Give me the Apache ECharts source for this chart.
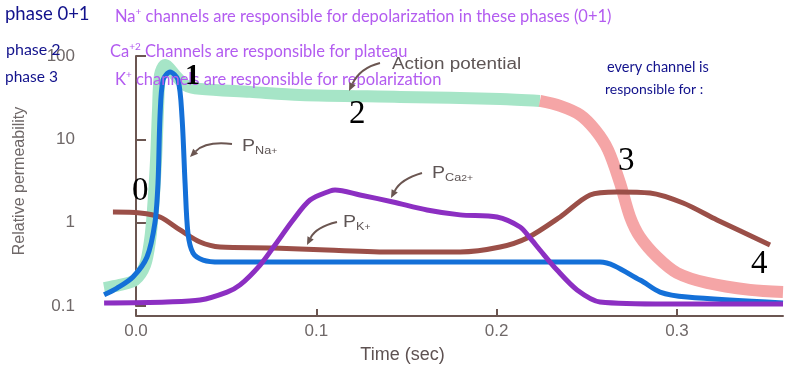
<!DOCTYPE html>
<html>
<head>
<meta charset="utf-8">
<script src="https://cdn.jsdelivr.net/npm/echarts@6/dist/echarts.min.js"></script>
<style>
    html, body {margin: 0; padding: 0; background: #fff;}
    #chart {width: 787px; height: 369px;}
</style>
</head>
<body>
<div id="chart"></div>
<script>
// action potential band, green part then red part  [time, relative value]
var apGreen = [[-0.0177, 0.164], [-0.0089, 0.179], [-0.0006, 0.205], [0.005, 0.31], [0.0078, 0.62],
    [0.0094, 1.42], [0.0111, 5.66], [0.0122, 22.5], [0.0133, 59.3], [0.0161, 78.2], [0.0216, 59.3],
    [0.0272, 45], [0.0355, 40.3], [0.0632, 37.1], [0.091, 34.1], [0.1464, 32.3], [0.2019, 30.5], [0.224, 28.9]];
var apRed = [[0.224, 28.9], [0.2352, 25.2], [0.2463, 19.6], [0.2546, 13.0], [0.2618, 7.46], [0.2684, 3.0],
    [0.274, 1.17], [0.2795, 0.673], [0.289, 0.387], [0.3001, 0.249], [0.3167, 0.189], [0.3405, 0.156], [0.3588, 0.147]];
// permeabilities
var pNa = [[-0.0177, 0.136], [-0.0105, 0.164], [-0.0017, 0.223], [0.0061, 0.387], [0.0105, 1.0], [0.0122, 3.0],
    [0.0133, 18.6], [0.015, 51.6], [0.0189, 64.4], [0.0233, 51.6], [0.0255, 18.6], [0.0272, 3.0], [0.0288, 0.75],
    [0.0316, 0.432], [0.0372, 0.356], [0.0466, 0.337], [0.1464, 0.337], [0.2573, 0.337], [0.2795, 0.205],
    [0.2906, 0.147], [0.3056, 0.128], [0.3588, 0.109]];
var pCa = [[-0.0177, 0.109], [0.0172, 0.112], [0.0355, 0.118], [0.0505, 0.147], [0.0577, 0.179], [0.0688, 0.31],
    [0.0771, 0.54], [0.0871, 1.077], [0.0965, 1.87], [0.1076, 2.40], [0.1104, 2.47], [0.1242, 2.15],
    [0.1425, 1.77], [0.1614, 1.42], [0.1797, 1.24], [0.2002, 1.17], [0.213, 0.887], [0.2185, 0.655],
    [0.224, 0.47], [0.2335, 0.27], [0.2446, 0.156], [0.2573, 0.112], [0.2945, 0.106], [0.3588, 0.106]];
var pK = [[-0.0128, 1.34], [0.0022, 1.31], [0.0133, 1.17], [0.0244, 0.817], [0.0355, 0.586], [0.0466, 0.51],
    [0.076, 0.497], [0.1059, 0.47], [0.1425, 0.445], [0.1797, 0.445], [0.2019, 0.51], [0.2169, 0.655],
    [0.2352, 1.17], [0.2518, 2.15], [0.2668, 2.34], [0.2851, 2.27], [0.3034, 1.72], [0.3222, 1.077], [0.3516, 0.54]];
var xTicks = [0, 0.1, 0.2, 0.3];

var AXIS_COLOR = "#6b5651";
var LABEL_COLOR = "#6f6868";
var PEN_BLUE = "#12128c";
var PEN_PURPLE = "#b35cf0";

var chartDom = document.getElementById('chart');
var myChart = echarts.init(chartDom);

function band(name, data, color, width, z) {
    return {
        name: name,
        type: 'line',
        data: data,
        xAxisIndex: 0,
        yAxisIndex: 0,
        symbol: 'none',
        smooth: 0.3,
        z: z,
        lineStyle: {color: color, width: width, cap: 'butt', join: 'round'}
    };
}

// curved arrow with a filled head
function arrow(x1, y1, cx, cy, x2, y2) {
    let ang = Math.atan2(y2 - cy, x2 - cx);
    let len = 8, w = 3.5;
    let bx = x2 - len * Math.cos(ang), by = y2 - len * Math.sin(ang);
    return [
        {
            type: 'bezierCurve', z: 100,
            shape: {x1: x1, y1: y1, x2: bx, y2: by, cpx1: cx, cpy1: cy},
            style: {stroke: AXIS_COLOR, lineWidth: 2, fill: 'none'}
        },
        {
            type: 'polygon', z: 100,
            shape: {points: [[x2, y2], [bx - w * Math.sin(ang), by + w * Math.cos(ang)], [bx + w * Math.sin(ang), by - w * Math.cos(ang)]]},
            style: {fill: AXIS_COLOR}
        }
    ];
}

function txt(x, y, text, font, color, extra) {
    let el = {
        type: 'text', x: x, y: y, z: 100,
        style: {text: text, font: font, fill: color}
    };
    if (extra) {
        for (let k in extra) {
            if (k === 'rich') {
                el.style.rich = extra.rich;
            } else {
                el[k] = extra[k];
            }
        }
    }
    return el;
}

var pRich = {
    p: {fontSize: 17, fontFamily: 'Liberation Sans', color: '#5e5555', lineHeight: 20, verticalAlign: 'middle'},
    s: {fontSize: 11, fontFamily: 'Liberation Sans', color: '#5e5555', lineHeight: 12, verticalAlign: 'bottom'},
    u: {fontSize: 9, fontFamily: 'Liberation Sans', color: '#5e5555', lineHeight: 18, verticalAlign: 'bottom'}
};
var penRich = {
    b: {fontSize: 16.5, fontFamily: 'Lato', color: PEN_PURPLE, lineHeight: 20, verticalAlign: 'middle'},
    u: {fontSize: 10, fontFamily: 'Lato', color: PEN_PURPLE, lineHeight: 11, verticalAlign: 'top'}
};

var serif = "33px 'Liberation Serif'";
var graphics = [
    txt(5, 5, 'phase 0+1', "18.5px 'Lato'", PEN_BLUE),
    txt(6, 42, 'phase 2', "16px 'Lato'", PEN_BLUE),
    txt(5, 69, 'phase 3', "15.5px 'Lato'", PEN_BLUE),
    txt(115, 7, '{b|Na}{u|+}{b| channels are responsible for depolarization in these phases (0+1)}', '', PEN_PURPLE, {rich: penRich}),
    txt(110, 42, '{b|Ca}{u|+2}{b| Channels are responsible for plateau}', '', PEN_PURPLE, {rich: penRich}),
    txt(115, 70, '{b|K}{u|+}{b| channels are responsible for repolarization}', '', PEN_PURPLE, {rich: penRich}),
    txt(607, 60, 'every channel is', "14.5px 'Lato'", PEN_BLUE),
    txt(605, 82, 'responsible for :', "14px 'Lato'", PEN_BLUE),
    txt(392, 57, 'Action potential', "16px 'Liberation Sans'", '#5e5555', {scaleX: 1.18}),
    txt(242, 136, '{p|P}{s|Na}{u|+}', '', '#5e5555', {rich: pRich, scaleX: 1.15}),
    txt(432, 163, '{p|P}{s|Ca}{u|2+}', '', '#5e5555', {rich: pRich, scaleX: 1.15}),
    txt(343, 212, '{p|P}{s|K}{u|+}', '', '#5e5555', {rich: pRich, scaleX: 1.15}),
    txt(132, 175, '0', serif, '#000'),
    txt(185, 61, '1', "bold 30px 'Liberation Serif'", '#000'),
    txt(349, 98, '2', serif, '#000'),
    txt(618, 145, '3', serif, '#000'),
    txt(751, 248, '4', serif, '#000')
];
graphics = graphics
    .concat(arrow(380, 63, 360, 68, 349, 91))
    .concat(arrow(232, 144, 206, 141, 190, 157))
    .concat(arrow(422, 173, 401, 179, 391, 198))
    .concat(arrow(337, 222, 316, 227, 307, 245));

var option = {
    animation: false,
    backgroundColor: '#fff',
    grid: [
        {left: 83, right: 4, top: 56, bottom: 63},
        {left: 136, right: 4, top: 56, bottom: 53}
    ],
    xAxis: [
        {type: 'value', gridIndex: 0, min: -0.0294, max: 0.3588, show: false},
        {
            type: 'value', gridIndex: 1, min: 0, max: 0.3588,
            name: 'Time (sec)', nameLocation: 'middle', nameGap: 30,
            nameTextStyle: {color: '#5e5252', fontSize: 18, fontFamily: 'Liberation Sans', padding: [0, 114, 0, 0]},
            axisLine: {lineStyle: {color: AXIS_COLOR, width: 2}},
            axisTick: {inside: true, length: 7, lineStyle: {color: AXIS_COLOR, width: 2}, customValues: xTicks},
            axisLabel: {
                customValues: xTicks, color: LABEL_COLOR, fontSize: 17, fontFamily: 'Liberation Sans', margin: 7,
                formatter: function (v) { return v.toFixed(1); }
            },
            splitLine: {show: false}
        }
    ],
    yAxis: [
        {
            type: 'log', logBase: 10, gridIndex: 0, min: 0.1, max: 100,
            name: 'Relative permeability', nameLocation: 'middle', nameGap: 55,
            nameTextStyle: {color: LABEL_COLOR, fontSize: 16, fontFamily: 'Liberation Sans'},
            axisLine: {show: true, lineStyle: {color: AXIS_COLOR, width: 2}},
            axisTick: {show: true, inside: true, length: 10, lineStyle: {color: AXIS_COLOR, width: 2}},
            axisLabel: {color: LABEL_COLOR, fontSize: 17, fontFamily: 'Liberation Sans', margin: 8,
                formatter: function (v) { return String(+v.toPrecision(3)); }},
            splitLine: {show: false},
            minorTick: {show: false}
        },
        {type: 'value', gridIndex: 1, show: false}
    ],
    series: [
        band('Action potential', apGreen, '#a6e5c7', 12, 1),
        band('Action potential (repol.)', apRed, '#f5a5a6', 12, 1),
        band('PK', pK, '#9b4f48', 5, 3),
        band('PNa', pNa, '#1470d8', 5, 4),
        band('PCa', pCa, '#8c2fc2', 5, 5)
    ],
    graphic: graphics
};

option && myChart.setOption(option);
</script>
</body>
</html>
